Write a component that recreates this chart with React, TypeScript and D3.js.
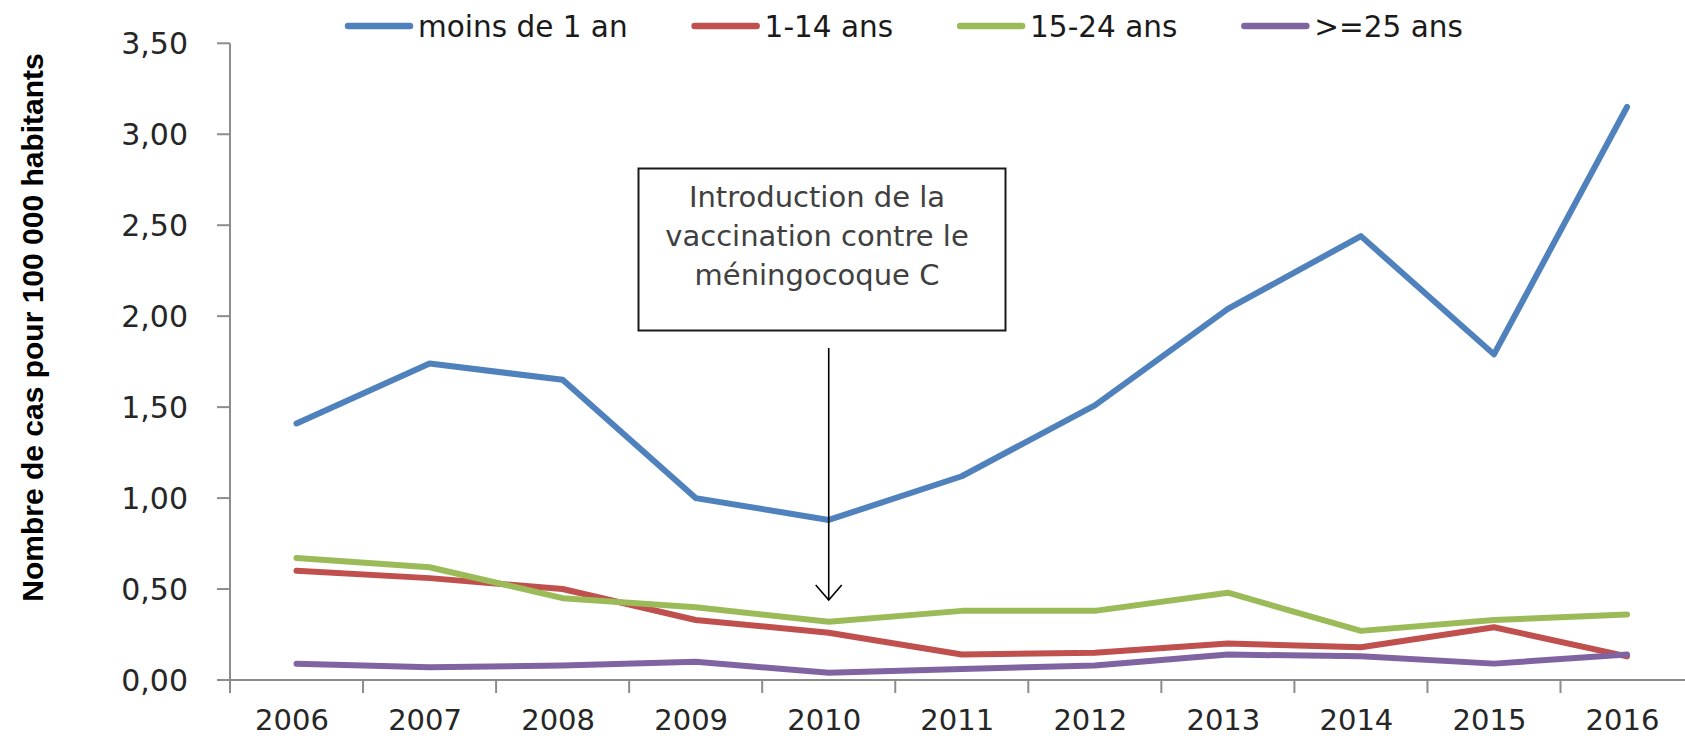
import React, { useEffect, useRef } from "react";
import * as d3 from "d3";

const years = ["2006", "2007", "2008", "2009", "2010", "2011", "2012", "2013", "2014", "2015", "2016"];
const moinsDe1An = [1.41, 1.74, 1.65, 1.0, 0.88, 1.12, 1.51, 2.04, 2.44, 1.79, 3.15];
const ans1a14 = [0.6, 0.56, 0.5, 0.33, 0.26, 0.14, 0.15, 0.2, 0.18, 0.29, 0.13];
const ans15a24 = [0.67, 0.62, 0.45, 0.4, 0.32, 0.38, 0.38, 0.48, 0.27, 0.33, 0.36];
const ans25plus = [0.09, 0.07, 0.08, 0.1, 0.04, 0.06, 0.08, 0.14, 0.13, 0.09, 0.14];
const seriesNames = ["moins de 1 an", "1-14 ans", "15-24 ans", ">=25 ans"];
const seriesColors = ["#4F81BD", "#C0504D", "#9BBB59", "#8064A2"];
const yTicks = [0, 0.5, 1, 1.5, 2, 2.5, 3, 3.5];
const yTitle = "Nombre de cas pour 100 000 habitants";
const annotationLines = ["Introduction de la", "vaccination contre le", "méningocoque C"];
const annotationYear = "2010";

const W = 1685;
const H = 738;
const FONT = "'DejaVu Sans', Verdana, sans-serif";

export default function App() {
  const ref = useRef<SVGSVGElement | null>(null);

  useEffect(() => {
    document.body.style.margin = "0";
    const svg = d3.select(ref.current);
    svg.selectAll("*").remove();

    const left = 230;
    const band = 133.05;
    const top = 43.3;
    const bottom = 680;

    const x = d3
      .scaleBand<string>()
      .domain(years)
      .range([left, left + band * years.length])
      .padding(0);
    const y = d3.scaleLinear().domain([0, 3.5]).range([bottom, top]);
    const cx = (yr: string) => (x(yr) as number) + x.bandwidth() / 2;

    svg.append("rect").attr("width", W).attr("height", H).attr("fill", "#ffffff");

    const axisColor = "#8c8c8c";
    const fmt = (v: number) => d3.format(".2f")(v).replace(".", ",");

    // Y axis
    const yAxis = svg.append("g");
    yAxis
      .append("line")
      .attr("x1", left)
      .attr("x2", left)
      .attr("y1", y(3.5))
      .attr("y2", bottom + 13)
      .attr("stroke", axisColor)
      .attr("stroke-width", 2);
    yTicks.forEach((t) => {
      yAxis
        .append("line")
        .attr("x1", left - 13)
        .attr("x2", left)
        .attr("y1", y(t))
        .attr("y2", y(t))
        .attr("stroke", axisColor)
        .attr("stroke-width", 2);
      yAxis
        .append("text")
        .attr("x", 188)
        .attr("y", y(t))
        .attr("dy", "0.36em")
        .attr("text-anchor", "end")
        .attr("font-family", FONT)
        .attr("font-size", 30)
        .attr("fill", "#262626")
        .text(fmt(t));
    });

    // X axis
    const xAxis = svg.append("g");
    xAxis
      .append("line")
      .attr("x1", left)
      .attr("x2", W + 20)
      .attr("y1", bottom)
      .attr("y2", bottom)
      .attr("stroke", axisColor)
      .attr("stroke-width", 2);
    years.forEach((yr, i) => {
      const bx = x(yr) as number;
      if (i > 0) {
        xAxis
          .append("line")
          .attr("x1", bx)
          .attr("x2", bx)
          .attr("y1", bottom)
          .attr("y2", bottom + 13)
          .attr("stroke", axisColor)
          .attr("stroke-width", 2);
      }
      xAxis
        .append("text")
        .attr("x", cx(yr) - 4.5)
        .attr("y", 730)
        .attr("text-anchor", "middle")
        .attr("font-family", FONT)
        .attr("font-size", 29)
        .attr("fill", "#262626")
        .text(yr);
    });

    // Y title
    svg
      .append("text")
      .attr("transform", `translate(32, ${(48 + 607) / 2}) rotate(-90)`)
      .attr("text-anchor", "middle")
      .attr("dy", "0.36em")
      .attr("font-family", "'Liberation Sans', Arial, sans-serif")
      .attr("font-weight", "bold")
      .attr("font-size", 30)
      .attr("fill", "#000")
      .text(yTitle);

    // Annotation box
    const box = svg.append("g");
    box
      .append("rect")
      .attr("x", 638.5)
      .attr("y", 168.5)
      .attr("width", 367)
      .attr("height", 162)
      .attr("fill", "#ffffff")
      .attr("stroke", "#1a1a1a")
      .attr("stroke-width", 2);
    annotationLines.forEach((ln, i) => {
      box
        .append("text")
        .attr("x", 817)
        .attr("y", 197 + i * 39)
        .attr("dy", "0.36em")
        .attr("text-anchor", "middle")
        .attr("font-family", FONT)
        .attr("font-size", 29)
        .attr("fill", "#404040")
        .text(ln);
    });

    // Series
    const allSeries = [moinsDe1An, ans1a14, ans15a24, ans25plus];
    const line = d3
      .line<number>()
      .x((_, i) => cx(years[i]))
      .y((d) => y(d));
    allSeries.forEach((vals, si) => {
      svg
        .append("path")
        .attr("d", line(vals) as string)
        .attr("fill", "none")
        .attr("stroke", seriesColors[si])
        .attr("stroke-width", 6)
        .attr("stroke-linejoin", "round")
        .attr("stroke-linecap", "round");
    });

    // Arrow
    const ax = cx(annotationYear);
    const arrow = svg.append("g").attr("stroke", "#000").attr("stroke-width", 1.6).attr("fill", "none");
    arrow.append("line").attr("x1", ax).attr("x2", ax).attr("y1", 348).attr("y2", 600);
    arrow
      .append("polyline")
      .attr("points", `${ax - 13},${585} ${ax},${600} ${ax + 13},${585}`);

    // Legend
    const legend = svg.append("g");
    let lx = 345;
    seriesNames.forEach((name, i) => {
      legend
        .append("line")
        .attr("x1", lx + 3)
        .attr("x2", lx + 65)
        .attr("y1", 26)
        .attr("y2", 26)
        .attr("stroke", seriesColors[i])
        .attr("stroke-width", 6.5)
        .attr("stroke-linecap", "round");
      const t = legend
        .append("text")
        .attr("x", lx + 73)
        .attr("y", 26)
        .attr("dy", "0.36em")
        .attr("font-family", FONT)
        .attr("font-size", 29.5)
        .attr("fill", "#1a1a1a")
        .text(name);
      const w = (t.node() as SVGTextElement).getComputedTextLength();
      lx = lx + 73 + w + 64;
    });
  }, []);

  return <svg ref={ref} width={W} height={H} style={{ display: "block" }} />;
}
